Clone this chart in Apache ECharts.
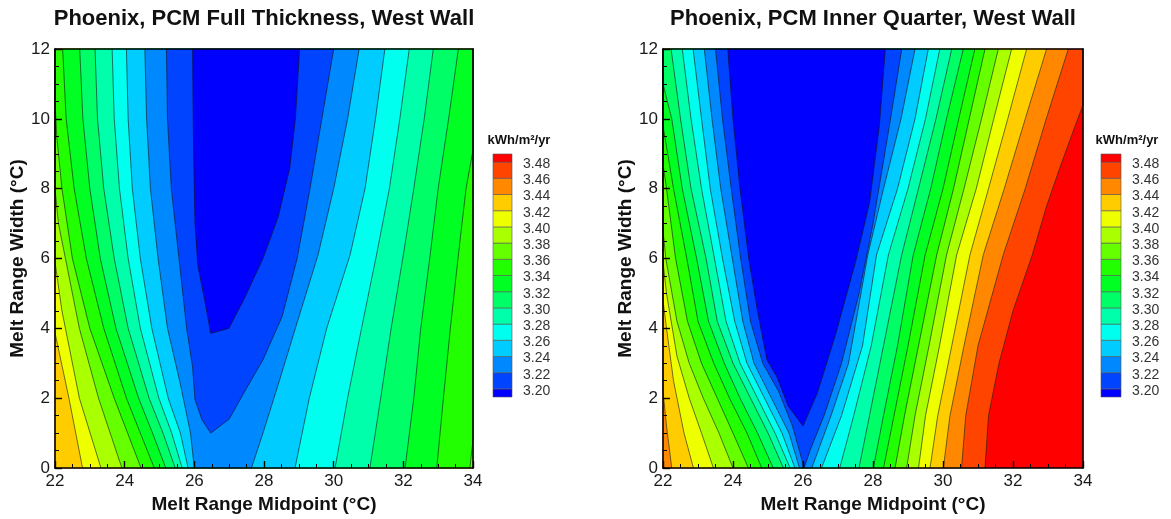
<!DOCTYPE html>
<html><head><meta charset="utf-8">
<script src="https://cdn.jsdelivr.net/npm/echarts@6/dist/echarts.min.js"></script>
<style>html,body{margin:0;padding:0;background:#fff}#c{width:1171px;height:519px}</style>
</head><body><div id="c"></div>
<script>
// ---------- data ----------
const X_TICKS = [22, 24, 26, 28, 30, 32, 34];
const Y_TICKS = [0, 2, 4, 6, 8, 10, 12];
const LEVELS = [3.20, 3.22, 3.24, 3.26, 3.28, 3.30, 3.32, 3.34, 3.36, 3.38, 3.40, 3.42, 3.44, 3.46, 3.48];
const BAND_COLORS = ['#0000ff','#0044ff','#0088ff','#00ccff','#00ffee','#00ffaa','#00ff66','#00ff22',
                     '#22ff00','#66ff00','#aaff00','#eeff00','#ffcc00','#ff8800','#ff4400','#ff0000'];
const TITLES = ['Phoenix, PCM Full Thickness, West Wall', 'Phoenix, PCM Inner Quarter, West Wall'];
const UNIT = 'kWh/m\u00b2/yr';

// Contour crossings: [midpoint, width] along each level's
// low-midpoint side (FT_LEFT / IQ_LEFT) and high-midpoint side (FT_RIGHT / IQ_RIGHT).
// null = the level is not crossed on that side.
const FT_LEFT = [
  [[26.47,3.86],[26.3,4.8],[26.1,5.8],[26.02,7],[25.98,9],[25.95,12]],
  [[26.47,1.0],[26.22,1.38],[26.02,1.96],[25.95,2.9],[25.78,4],[25.56,6],[25.34,8],[25.23,10],[25.2,12]],
  [[26.0,0],[25.89,1.0],[25.6,2.4],[25.23,4],[24.96,6],[24.74,8],[24.63,10],[24.58,12]],
  [[25.82,0],[25.6,1],[25.25,2],[24.78,4],[24.45,6],[24.22,8],[24.1,10],[24.05,12]],
  [[25.65,0],[25.35,1],[24.98,2],[24.45,4],[24.1,6],[23.85,8],[23.7,10],[23.64,12]],
  [[25.45,0],[25.1,1],[24.7,2],[24.1,4],[23.7,6],[23.4,8],[23.22,10],[23.15,12]],
  [[25.18,0],[24.8,1],[24.4,2],[23.75,4],[23.3,6],[23.0,8],[22.8,10],[22.71,12]],
  [[24.85,0],[24.45,1],[24.05,2],[23.4,4],[22.9,6],[22.55,8],[22.32,10],[22.22,12]],
  [[24.47,0],[23.7,2],[23.0,4],[22.5,6],[22.2,8],[22.05,9.5],[22,10.5],[22,12]],
  [[23.92,0],[23.25,2],[22.7,4],[22.3,6],[22.1,7],[22,8],[22,12]],
  [[23.32,0],[22.7,2],[22.2,4.5],[22,5.9],[22,12]],
  [[22.79,0],[22.4,2],[22,3.87],[22,12]],
  null, null, null
];
const FT_RIGHT = [
  [[26.47,3.86],[26.99,4.0],[27.42,4.82],[27.97,6.0],[28.41,7.2],[28.74,8.6],[28.9,10],[29.02,12]],
  [[26.47,1.0],[27.0,1.4],[27.42,2.15],[27.97,3.1],[28.52,4.34],[28.95,6.0],[29.32,8],[29.66,10],[30.0,12]],
  [[27.64,0],[27.97,1],[28.41,2.4],[28.9,4],[29.55,6.1],[30.0,8],[30.4,10],[30.73,12]],
  [[28.89,0],[29.3,2],[29.8,4],[30.47,6.1],[30.9,8],[31.2,10],[31.47,12]],
  [[30.04,0],[30.4,2],[30.8,4],[31.23,6.1],[31.6,8],[31.9,10],[32.17,12]],
  [[31.04,0],[31.35,2],[31.65,4],[32.0,6.1],[32.3,8],[32.6,10],[32.86,12]],
  [[32.05,0],[32.3,2],[32.5,4],[32.77,6.1],[33.0,8],[33.3,10],[33.58,12]],
  [[32.96,0],[33.15,2],[33.35,4],[33.58,6.1],[33.8,8],[34,9.1],[34,12]],
  [[33.91,0],[34,0.8],[34,12]],
  null, null, null, null, null, null
];
const IQ_LEFT = [
  [[26.0,1.2],[25.58,1.77],[25.26,2.6],[24.97,3.1],[24.7,4.5],[24.45,6],[24.2,8],[24.0,10],[23.85,12]],
  [[26.0,0],[25.98,0.2],[25.7,1.2],[25.3,2.2],[24.85,3],[24.5,4.2],[24.22,6],[23.95,8],[23.7,10],[23.5,12]],
  [[25.9,0],[25.6,1],[25.1,2],[24.6,3],[24.28,4.2],[23.98,6],[23.65,8],[23.4,10],[23.18,12]],
  [[25.77,0],[25.4,1],[24.9,2],[24.4,3],[24.05,4.2],[23.7,6],[23.35,8],[23.1,10],[22.86,12]],
  [[25.63,0],[25.2,1],[24.7,2],[24.2,3],[23.8,4.2],[23.47,6],[23.1,8],[22.8,10],[22.55,12]],
  [[25.44,0],[25.0,1],[24.5,2],[24.0,3],[23.55,4.2],[23.23,6],[22.8,8],[22.5,10],[22.23,12]],
  [[25.15,0],[24.7,1],[24.2,2],[23.75,3],[23.3,4.2],[22.96,6],[22.55,8],[22.25,10],[22,11.0],[22,12]],
  [[24.82,0],[24.4,1],[23.9,2],[23.45,3],[23.0,4.2],[22.68,6],[22.3,8],[22,9.8],[22,12]],
  [[24.44,0],[24.0,1],[23.55,2],[23.1,3],[22.7,4.2],[22.36,6],[22.1,8],[22,8.7],[22,12]],
  [[24.0,0],[23.6,1],[23.15,2],[22.75,3],[22.4,4.2],[22.08,6],[22,6.8],[22,12]],
  [[23.44,0],[23.1,1],[22.75,2],[22.4,3.2],[22.1,5],[22,5.9],[22,12]],
  [[22.87,0],[22.6,1],[22.3,2.5],[22.1,4],[22,4.8],[22,12]],
  [[22.25,0],[22.1,1.2],[22,2.2],[22,12]],
  null, null
];
const IQ_RIGHT = [
  [[26.0,1.2],[26.41,2.15],[26.94,3.86],[27.5,5.9],[27.9,7.6],[28.18,9.8],[28.35,12]],
  [[26.03,0],[26.2,0.5],[26.6,1.5],[27.1,3],[27.6,5],[28.0,7],[28.5,10],[28.82,12]],
  [[26.25,0],[26.8,1.5],[27.3,3],[27.85,6.1],[28.3,8],[28.8,10],[29.2,12]],
  [[26.53,0],[27.1,1.5],[27.7,3.5],[28.1,6.1],[28.7,8],[29.2,10],[29.58,12]],
  [[27.05,0],[27.45,1.5],[27.95,3.5],[28.44,6.1],[29.0,8],[29.5,10],[29.91,12]],
  [[27.6,0],[27.9,1.5],[28.3,3.5],[28.82,6.1],[29.3,8],[29.8,10],[30.25,12]],
  [[28.01,0],[28.3,1.5],[28.7,3.5],[29.15,6.1],[29.65,8],[30.1,10],[30.58,12]],
  [[28.3,0],[28.6,1.5],[29.0,3.5],[29.49,6.1],[30.0,8],[30.45,10],[30.91,12]],
  [[28.63,0],[28.9,1.5],[29.3,3.5],[29.82,6.1],[30.3,8],[30.75,10],[31.2,12]],
  [[28.96,0],[29.2,1.5],[29.6,3.5],[30.1,6.1],[30.6,8],[31.1,10],[31.58,12]],
  [[29.3,0],[29.5,1.5],[29.9,3.5],[30.39,6.1],[30.95,8],[31.45,10],[31.96,12]],
  [[29.63,0],[29.85,1.5],[30.25,3.5],[30.77,6.1],[31.3,8],[31.85,10],[32.39,12]],
  [[30.01,0],[30.2,1.5],[30.6,3.5],[31.15,6.1],[31.75,8],[32.35,10],[32.96,12]],
  [[30.53,0],[30.65,1.5],[31.0,3.5],[31.72,6.1],[32.35,8],[32.95,10],[33.58,12]],
  [[31.2,0],[31.3,1.5],[31.6,3.0],[32.0,4.5],[32.55,6.1],[32.96,7.5],[33.34,8.6],[33.63,9.4],[34,10.4],[34,12]]
];

// ---------- rendering ----------
const X_MIN = X_TICKS[0], X_MAX = X_TICKS[X_TICKS.length - 1];
const Y_MIN = Y_TICKS[0], Y_MAX = Y_TICKS[Y_TICKS.length - 1];
const FONT = '"Liberation Sans", Arial, Helvetica, sans-serif';

function polygonFor(L, R) {
  const l = L || [[X_MIN, Y_MIN], [X_MIN, Y_MAX]];
  const r = R || [[X_MAX, Y_MIN], [X_MAX, Y_MAX]];
  return l.concat(r.slice().reverse());
}

function fillSeries(gi, leftB, rightB) {
  const data = [{value: [X_MIN, Y_MIN, -1]}];
  for (let i = LEVELS.length - 1; i >= 0; i--) data.push({value: [X_MIN, Y_MIN, i]});
  return {
    type: 'custom', xAxisIndex: gi * 2, yAxisIndex: gi * 2, z: 1, silent: true,
    data: data,
    renderItem: function (params, api) {
      const i = api.value(2);
      let pts, color;
      if (i < 0) {
        pts = [[X_MIN, Y_MIN], [X_MIN, Y_MAX], [X_MAX, Y_MAX], [X_MAX, Y_MIN]];
        color = BAND_COLORS[LEVELS.length];
      } else {
        pts = polygonFor(leftB[i], rightB[i]);
        color = BAND_COLORS[i];
      }
      return {type: 'polygon', shape: {points: pts.map(p => api.coord(p))},
              style: {fill: color, stroke: color, lineWidth: 0.3}};
    }
  };
}

function lineSeries(gi, leftB, rightB) {
  const data = [];
  LEVELS.forEach((lv, i) => {
    if (leftB[i]) data.push({value: [X_MIN, Y_MIN, i, 0]});
    if (rightB[i]) data.push({value: [X_MIN, Y_MIN, i, 1]});
  });
  return {
    type: 'custom', xAxisIndex: gi * 2, yAxisIndex: gi * 2, z: 3, silent: true,
    data: data,
    renderItem: function (params, api) {
      const i = api.value(2), side = api.value(3);
      const br = side === 0 ? leftB[i] : rightB[i];
      return {type: 'polyline', shape: {points: br.map(p => api.coord(p))},
              style: {stroke: 'rgba(20,20,20,0.75)', lineWidth: 0.8, fill: null}};
    }
  };
}

function legendSeries(li) {
  const half = (LEVELS[1] - LEVELS[0]) / 2;
  const data = [];
  for (let i = 0; i <= LEVELS.length; i++) {
    const lo = i === 0 ? LEVELS[0] - half : LEVELS[i - 1];
    const hi = i === LEVELS.length ? LEVELS[LEVELS.length - 1] + half : LEVELS[i];
    data.push({value: [0, lo, hi, i]});
  }
  return {
    type: 'custom', xAxisIndex: 4 + li, yAxisIndex: 4 + li, z: 3, silent: true,
    data: data,
    renderItem: function (params, api) {
      const lo = api.value(1), hi = api.value(2), i = api.value(3);
      const p0 = api.coord([0, hi]), p1 = api.coord([1, lo]);
      const children = [{type: 'rect', shape: {x: p0[0], y: p0[1], width: p1[0] - p0[0], height: p1[1] - p0[1]},
                         style: {fill: BAND_COLORS[i], stroke: '#555', lineWidth: 0.6}}];
      if (i < LEVELS.length) {
        const t = api.coord([1, LEVELS[i]]);
        children.push({type: 'text', x: t[0] + 11, y: t[1] + 2,
          style: {text: LEVELS[i].toFixed(2), font: '14px ' + FONT, fill: '#333',
                  align: 'left', verticalAlign: 'middle', textAlign: 'left', textVerticalAlign: 'middle'}});
      }
      return {type: 'group', children: children};
    }
  };
}

const GRIDS = [
  {left: 55, top: 49, width: 418, height: 419},
  {left: 663, top: 49, width: 420, height: 419}
];
const LEG_GRIDS = [
  {left: 493, top: 154, width: 19, height: 243},
  {left: 1101, top: 154, width: 20, height: 243}
];

const grid = [], xAxis = [], yAxis = [];
GRIDS.forEach((g, gi) => {
  grid.push(Object.assign({show: false, containLabel: false, outerBoundsMode: 'none'}, g));
  xAxis.push({
    gridIndex: gi, type: 'value', min: X_MIN, max: X_MAX, interval: 2, position: 'bottom', z: 10,
    axisLine: {show: true, onZero: false, lineStyle: {color: '#000', width: 1.6}},
    axisTick: {show: true, inside: true, length: 7, lineStyle: {color: '#000', width: 1.4}},
    minorTick: {show: true, splitNumber: 4, length: 4, lineStyle: {color: '#000', width: 1}},
    axisLabel: {fontSize: 17, color: '#1a1a1a', margin: 5, fontFamily: FONT},
    splitLine: {show: false}, minorSplitLine: {show: false},
    name: 'Melt Range Midpoint (\u00b0C)', nameLocation: 'middle', nameGap: 24,
    nameTextStyle: {fontSize: 19, fontWeight: 'bold', color: '#111', fontFamily: FONT}
  });
  xAxis.push({
    gridIndex: gi, type: 'value', min: X_MIN, max: X_MAX, position: 'top', z: 10,
    axisLine: {show: true, onZero: false, lineStyle: {color: '#000', width: 1.6}},
    axisTick: {show: false}, axisLabel: {show: false}, splitLine: {show: false}
  });
  yAxis.push({
    gridIndex: gi, type: 'value', min: Y_MIN, max: Y_MAX, interval: 2, position: 'left', z: 10,
    axisLine: {show: true, onZero: false, lineStyle: {color: '#000', width: 1.6}},
    axisTick: {show: true, inside: true, length: 7, lineStyle: {color: '#000', width: 1.4}},
    minorTick: {show: true, splitNumber: 4, length: 4, lineStyle: {color: '#000', width: 1}},
    axisLabel: {fontSize: 17, color: '#1a1a1a', margin: 5, fontFamily: FONT},
    splitLine: {show: false}, minorSplitLine: {show: false},
    name: 'Melt Range Width (\u00b0C)', nameLocation: 'middle', nameGap: 27, nameRotate: 90,
    nameTextStyle: {fontSize: 19, fontWeight: 'bold', color: '#111', fontFamily: FONT}
  });
  yAxis.push({
    gridIndex: gi, type: 'value', min: Y_MIN, max: Y_MAX, position: 'right', z: 10,
    axisLine: {show: true, onZero: false, lineStyle: {color: '#000', width: 1.6}},
    axisTick: {show: false}, axisLabel: {show: false}, splitLine: {show: false}
  });
});
LEG_GRIDS.forEach((g, li) => {
  grid.push(Object.assign({show: false, containLabel: false, outerBoundsMode: 'none'}, g));
  const half = (LEVELS[1] - LEVELS[0]) / 2;
  xAxis.push({gridIndex: 2 + li, type: 'value', min: 0, max: 1, show: false});
  yAxis.push({gridIndex: 2 + li, type: 'value', min: LEVELS[0] - half,
              max: LEVELS[LEVELS.length - 1] + half, show: false});
});

const graphic = [];
GRIDS.forEach((g, gi) => {
  graphic.push({type: 'text', x: g.left + g.width / 2, y: 19, silent: true,
    style: {text: TITLES[gi], font: 'bold 22px ' + FONT, fill: '#111',
            align: 'center', verticalAlign: 'middle', textAlign: 'center', textVerticalAlign: 'middle'}});
});
LEG_GRIDS.forEach((g, li) => {
  graphic.push({type: 'text', x: g.left + 26, y: 140, silent: true,
    style: {text: UNIT, font: 'bold 13px ' + FONT, fill: '#111',
            align: 'center', verticalAlign: 'middle', textAlign: 'center', textVerticalAlign: 'middle'}});
});

const chart = echarts.init(document.getElementById('c'));
chart.setOption({
  animation: false,
  backgroundColor: '#fff',
  grid: grid, xAxis: xAxis, yAxis: yAxis, graphic: graphic,
  series: [
    fillSeries(0, FT_LEFT, FT_RIGHT), lineSeries(0, FT_LEFT, FT_RIGHT),
    fillSeries(1, IQ_LEFT, IQ_RIGHT), lineSeries(1, IQ_LEFT, IQ_RIGHT),
    legendSeries(0), legendSeries(1)
  ]
});
</script></body></html>
